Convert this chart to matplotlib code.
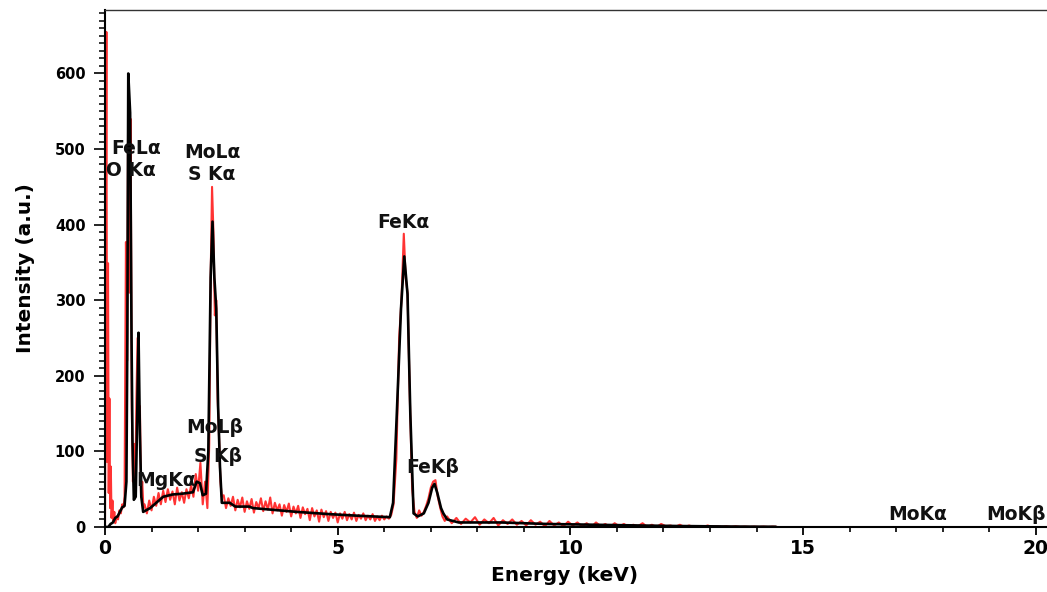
import numpy as np
import matplotlib
matplotlib.use("Agg")
import matplotlib.pyplot as plt
from matplotlib.ticker import MultipleLocator, FixedLocator

# ---------------- data ----------------
# Smoothed spectrum (black)
black_x = [0.00, 0.07, 0.12, 0.17, 0.22, 0.27, 0.32, 0.37, 0.42, 0.46, 0.48, 0.50, 0.54, 0.57,
           0.59, 0.62, 0.66, 0.69, 0.72, 0.75, 0.78, 0.82, 0.97, 1.10, 1.25, 1.45, 1.65, 1.89,
           1.97, 2.04, 2.10, 2.17, 2.22, 2.27, 2.31, 2.35, 2.39, 2.43, 2.47, 2.51, 2.68, 2.80,
           3.10, 3.18, 4.12, 4.83, 5.41, 6.12, 6.19, 6.27, 6.36, 6.43, 6.50, 6.56, 6.63, 6.72,
           6.85, 6.95, 7.03, 7.08, 7.14, 7.22, 7.27, 7.35, 7.60, 8.50, 9.50, 10.5, 11.5, 12.3,
           13.5, 14.4]
black_y = [0, 0, 4, 6, 12, 14, 20, 26, 28, 60, 250, 600, 548, 250,
           115, 36, 40, 140, 257, 124, 40, 20, 25, 32, 40, 43, 44, 46,
           60, 58, 42, 44, 100, 330, 404, 330, 289, 160, 80, 32, 32, 27,
           27, 25, 20, 17, 15, 13, 32, 150, 289, 358, 308, 150, 18, 14,
           18, 32, 52, 57, 45, 25, 18, 10, 6, 6, 4, 3, 2, 1.3,
           0.6, 0.3]

# Raw spectrum (red) -- low-energy region
red_low_x = [0.00, 0.03, 0.045, 0.065, 0.08, 0.095, 0.11, 0.125, 0.14, 0.16, 0.18, 0.20, 0.22,
             0.25, 0.28, 0.31, 0.34, 0.37, 0.40, 0.42, 0.45, 0.475, 0.50, 0.525, 0.55, 0.575,
             0.60, 0.625, 0.65, 0.675, 0.70, 0.725, 0.75, 0.775, 0.80, 0.825]
red_low_y = [0, 655, 86, 349, 45, 170, 25, 80, 12, 35, 8, 20, 5,
             14, 10, 22, 18, 30, 26, 40, 377, 220, 595, 310, 540, 160,
             60, 110, 45, 170, 250, 150, 160, 40, 60, 25]

# Raw spectrum (red) -- 0.85 to 2.20 keV, 0.05 keV channels
red_b_start, red_b_step = 0.85, 0.05
red_b_y = [30, 18, 35, 22, 40, 28, 45, 30, 48, 33, 50, 36, 47, 30, 52, 35, 46, 32, 50, 38,
           55, 40, 70, 48, 85, 30, 60, 25]

# Raw spectrum (red) -- S Ka / Mo La peak
red_s_x = [2.24, 2.27, 2.30, 2.33, 2.36, 2.39, 2.42, 2.45, 2.48, 2.51]
red_s_y = [110, 330, 450, 390, 280, 300, 170, 120, 60, 40]

# Raw spectrum (red) -- 2.55 to 6.15 keV, 0.05 keV channels
red_d_start, red_d_step = 2.55, 0.05
red_d_y = [42, 25, 38, 28, 40, 22, 36, 26, 39, 20, 34, 24, 37, 19, 33, 25, 38, 21, 34, 23,
           39, 18, 32, 22, 30, 15, 29, 20, 31, 14, 27, 18, 28, 12, 26, 17, 24, 9, 25, 14,
           22, 7, 23, 13, 21, 8, 20, 12, 19, 6, 18, 11, 20, 9, 17, 10, 19, 8, 16, 11,
           18, 9, 15, 10, 17, 8, 14, 9, 15, 10, 14, 11, 16]

# Raw spectrum (red) -- Fe Ka / Fe Kb peaks
red_fe_x = [6.20, 6.26, 6.32, 6.37, 6.42, 6.46, 6.50, 6.55, 6.60, 6.65, 6.70, 6.75, 6.80,
            6.85, 6.90, 6.95, 7.00, 7.05, 7.10, 7.15, 7.20, 7.25, 7.30]
red_fe_y = [30, 90, 250, 300, 388, 330, 310, 170, 50, 20, 12, 22, 15,
            20, 28, 38, 52, 60, 62, 40, 26, 14, 8]

# Raw spectrum (red) -- 7.35 to 14.45 keV, 0.1 keV channels
red_f_start, red_f_step = 7.35, 0.1
red_f_y = [14, 5, 12, 4, 11, 6, 13, 3, 10, 5, 12, 2, 9, 4, 10, 3, 8, 2, 9, 3,
           7, 1, 8, 2, 6, 1, 7, 2, 6, 1, 5, 0, 6, 1, 4, 0, 5, 1, 4, 0,
           3, 1, 5, 0, 3, 0, 4, 1, 2, 0, 3, 0, 2, 0, 1, 0, 2, 0, 1, 0,
           1, 0, 1, 0, 0.5, 0, 0.5, 0, 0.5, 0, 0.5, 0]

# Peak labels
label_text = ["FeL\u03b1", "O K\u03b1", "MoL\u03b1", "S K\u03b1", "FeK\u03b1", "MoL\u03b2",
              "S K\u03b2", "MgK\u03b1", "FeK\u03b2", "MoK\u03b1", "MoK\u03b2"]
label_x = [0.67, 0.56, 2.30, 2.30, 6.42, 2.36, 2.43, 1.31, 7.05, 17.47, 19.57]
label_y = [501, 471, 496, 466, 403, 131, 93, 62, 79, 16, 16]

# ---------------- build red series ----------------
def channels(start, step, vals):
    return list(start + step * np.arange(len(vals)))

red_x = (red_low_x + channels(red_b_start, red_b_step, red_b_y) + red_s_x
         + channels(red_d_start, red_d_step, red_d_y) + red_fe_x
         + channels(red_f_start, red_f_step, red_f_y))
red_y = red_low_y + red_b_y + red_s_y + red_d_y + red_fe_y + red_f_y

# ---------------- plot ----------------
W, H = 1047, 592
AX_L, AX_R, AX_T, AX_B = 105, 1047, 10, 527
fig = plt.figure(figsize=(W / 100, H / 100), dpi=100)
ax = fig.add_axes([AX_L / W, (H - AX_B) / H, (AX_R - AX_L) / W, (AX_B - AX_T) / H])

ax.plot(red_x, red_y, color="#ff3333", lw=1.5, zorder=2)
ax.plot(black_x, black_y, color="black", lw=1.9, zorder=3)

ax.set_xlim(0, 20.24)
ax.set_ylim(0, 684)

ax.xaxis.set_major_locator(FixedLocator([0, 5, 10, 15, 20]))
ax.xaxis.set_minor_locator(MultipleLocator(1))
ax.yaxis.set_major_locator(FixedLocator([0, 100, 200, 300, 400, 500, 600]))
ax.yaxis.set_minor_locator(MultipleLocator(10))

ax.tick_params(axis="x", which="major", direction="out", length=6, width=1.3,
               labelsize=13.5, pad=3)
ax.tick_params(axis="x", which="minor", direction="out", length=3.6, width=1.2)
ax.tick_params(axis="y", which="major", direction="out", length=8, width=1.2,
               labelsize=10.5, pad=6)
ax.tick_params(axis="y", which="minor", direction="out", length=4.5, width=1.1)
for lab in ax.get_xticklabels() + ax.get_yticklabels():
    lab.set_fontweight("bold")
    lab.set_family("DejaVu Sans")

ax.spines["right"].set_visible(False)
ax.spines["left"].set_linewidth(1.5)
ax.spines["bottom"].set_linewidth(1.5)
ax.spines["top"].set_linewidth(1.0)
ax.spines["top"].set_color("#333333")

ax.set_xlabel("Energy (keV)", fontsize=14.5, fontweight="bold", family="DejaVu Sans")
ax.set_ylabel("Intensity (a.u.)", fontsize=14.5, fontweight="bold", family="DejaVu Sans")
ax.xaxis.set_label_coords((565 - AX_L) / (AX_R - AX_L), -(566 - AX_B) / (AX_B - AX_T))
ax.yaxis.set_label_coords(-(AX_L - 35) / (AX_R - AX_L), 0.5)

for t, x, y in zip(label_text, label_x, label_y):
    ax.text(x, y, t, ha="center", va="center", fontsize=13.5, fontweight="bold",
            family="DejaVu Sans", color="#111111", zorder=4)

fig.savefig("out.png", dpi=100)
